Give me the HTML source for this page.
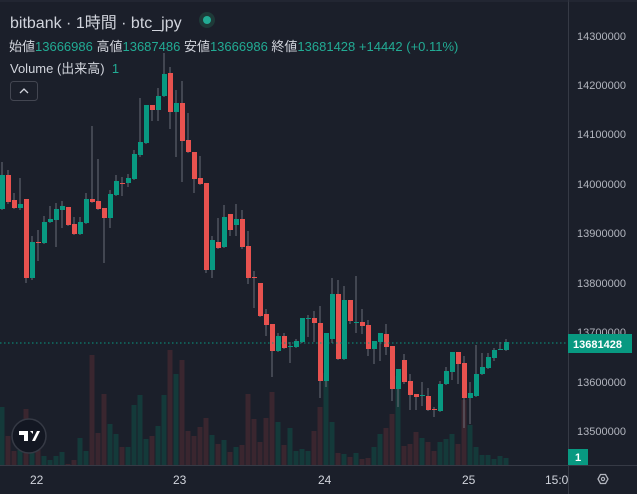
<!DOCTYPE html>
<html><head><meta charset="utf-8"><style>
html,body{margin:0;padding:0;background:#1b1f2a;}
body{width:637px;height:494px;overflow:hidden;position:relative;font-family:"Liberation Sans","Noto Sans CJK JP",sans-serif;}
.t{position:absolute;white-space:nowrap;}
</style></head><body>
<svg id="s" width="637" height="494" style="position:absolute;left:0;top:0" xmlns="http://www.w3.org/2000/svg">
<rect width="637" height="494" fill="#1b1f2a"/>
<line x1="568.5" y1="0" x2="568.5" y2="494" stroke="#363a45"/>
<line x1="0" y1="465.5" x2="637" y2="465.5" stroke="#363a45"/>
<line x1="0" y1="1" x2="637" y2="1" stroke="#2a2e39"/>
<g id="v"></g><g id="c"></g>
<line x1="0" y1="343" x2="568" y2="343" stroke="#089981" stroke-dasharray="1.5,2.5"/>
<g font-size="11" fill="#b2b5be" font-family="Liberation Sans,sans-serif">
<text x="577" y="40">14300000</text><text x="577" y="89">14200000</text><text x="577" y="138">14100000</text><text x="577" y="188">14000000</text><text x="577" y="237">13900000</text><text x="577" y="287">13800000</text><text x="577" y="336">13700000</text><text x="577" y="386">13600000</text><text x="577" y="435">13500000</text>
</g>
<rect x="568" y="334" width="64" height="19" fill="#089981"/>
<text x="573" y="348" font-size="11" font-weight="bold" fill="#fff" font-family="Liberation Sans,sans-serif">13681428</text>
<rect x="568" y="449" width="20" height="16" fill="#089981"/>
<text x="575" y="461" font-size="11" font-weight="bold" fill="#fff" font-family="Liberation Sans,sans-serif">1</text>
<g font-size="12" fill="#d1d4dc" font-family="Liberation Sans,sans-serif">
<text x="30" y="484">22</text><text x="173" y="484">23</text><text x="318" y="484">24</text><text x="462" y="484">25</text><text x="545" y="484">15:0</text>
</g>
<polygon points="598,479 600.5,474.5 605.5,474.5 608,479 605.5,483.5 600.5,483.5" fill="none" stroke="#b2b5be" stroke-width="1.3"/>
<circle cx="603" cy="479" r="1.6" fill="none" stroke="#b2b5be" stroke-width="1.2"/>
<circle cx="29" cy="436" r="17" fill="#131722" stroke="#363a45" stroke-width="1.5"/>
<path d="M19,431h9v10h-4v-6h-5z M30,431h3v3z M32,441l5-10h3l-5,10z" fill="#fff"/>
<circle cx="207" cy="20" r="8" fill="#1e3a38"/><circle cx="207" cy="20" r="4" fill="#22ab94"/>
<rect x="10.5" y="81.5" width="27" height="19" rx="3" fill="none" stroke="#434651"/>
<path d="M20,93l4-4l4,4" fill="none" stroke="#d1d4dc" stroke-width="1.3"/>
</svg>
<div class="t" style="left:10px;top:9px;font-size:16px;color:#d1d4dc;">bitbank · 1時間 · btc_jpy</div>
<div class="t" style="left:9px;top:36px;font-size:13px;color:#d1d4dc;">始値<span style="color:#22ab94">13666986</span> 高値<span style="color:#22ab94">13687486</span> 安値<span style="color:#22ab94">13666986</span> 終値<span style="color:#22ab94">13681428</span> <span style="color:#22ab94">+14442 (+0.11%)</span></div>
<div class="t" style="left:10px;top:58px;font-size:13px;color:#d1d4dc;">Volume (出来高) <span style="color:#22ab94">&nbsp;1</span></div>
<script>
var D=[[209,175,162,209],[175,202,170,203],[200,208,193,208],[208,204,178,209],[199,278,199,282],[278,242,236,279],[242,242,230,260],[243,222,216,243],[222,219,206,222],[220,209,203,246],[210,206,201,227],[207,225,207,225],[224,234,217,234],[234,222,217,234],[223,199,193,223],[199,202,126,202],[201,209,159,209],[208,218,208,262],[218,194,190,227],[195,181,175,195],[183,183,177,195],[183,178,174,186],[179,154,150,179],[155,142,98,156],[143,105,105,143],[105,110,105,120],[110,96,88,120],[96,74,53,96],[73,112,67,128],[112,103,90,156],[103,141,81,181],[140,152,113,152],[152,179,152,192],[178,184,156,184],[183,270,183,272],[270,240,236,277],[242,248,218,248],[247,217,205,247],[214,230,214,235],[225,219,204,235],[219,247,210,248],[246,278,231,283],[277,277,271,307],[283,316,283,316],[314,325,309,335],[324,351,324,376],[351,336,333,351],[336,348,333,348],[346,346,342,362],[347,341,339,347],[342,318,318,342],[318,318,315,336],[318,323,311,341],[323,381,306,397],[381,333,333,386],[339,294,278,342],[294,359,280,359],[359,300,286,359],[300,321,300,323],[322,322,276,332],[322,326,309,333],[325,349,320,355],[349,341,341,363],[342,333,333,360],[334,347,324,354],[346,389,346,400],[389,369,369,406],[360,382,354,383],[381,395,374,409],[394,397,394,409],[395,395,382,405],[396,410,388,410],[409,409,407,416],[411,384,381,411],[384,371,367,384],[372,352,352,379],[352,364,352,383],[363,398,356,427],[398,393,382,423],[396,374,345,396],[374,367,353,374],[368,357,353,368],[358,350,348,360],[349,349,342,349],[350,342,339,350]];
var V=[407,436,451,450,409,453,447,456,460,456,452,464,460,438,451,355,433,394,424,434,447,447,405,395,439,436,426,395,350,374,360,431,436,427,418,435,444,440,452,447,445,394,419,442,418,392,422,445,428,451,449,451,431,407,373,422,453,454,457,453,459,458,447,434,428,414,376,446,444,432,438,442,451,442,439,434,444,400,425,447,455,455,459,456,458];
var ns="http://www.w3.org/2000/svg",c=document.getElementById("c"),v=document.getElementById("v");
function r(p,x,y,w,h,f){var e=document.createElementNS(ns,"rect");e.setAttribute("x",x);e.setAttribute("y",y);e.setAttribute("width",w);e.setAttribute("height",h);e.setAttribute("fill",f);p.appendChild(e);}
D.forEach(function(d,i){var x=2+6*i,up=d[1]<d[0]||(d[1]==d[0]&&i!=6&&i!=20&&i!=42&&i!=72);
var col=up?"#089981":"#e8524f";var top=Math.min(d[0],d[1]),bot=Math.max(d[0],d[1]);
r(c,x-0.5,d[2],1,d[3]-d[2]+1,"#6a6d78");
r(c,x-2,top,5,Math.max(bot-top,1),col);
var vt=V[i];r(v,x-2.5,vt,5,465-vt,up?"#143a3a":"#3a262f");});
</script>
</body></html>
